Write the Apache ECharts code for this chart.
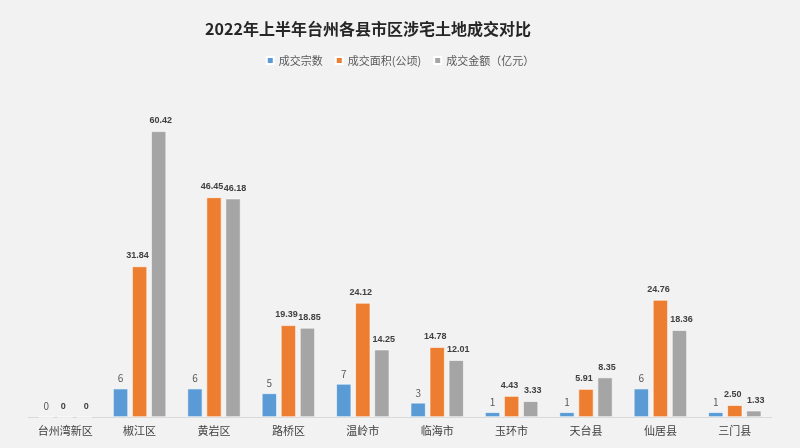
<!DOCTYPE html>
<html><head><meta charset="utf-8">
<script src="https://cdn.jsdelivr.net/npm/echarts@6/dist/echarts.min.js"></script>
<style>html,body{margin:0;padding:0;background:#f2f2f2;}#c{width:800px;height:448px;}</style>
</head><body><div id="c"></div>
<script>
const categories = ['台州湾新区','椒江区','黄岩区','路桥区','温岭市','临海市','玉环市','天台县','仙居县','三门县'];
const countData = [0,6,6,5,7,3,1,1,6,1];
const areaData = [0,31.84,46.45,19.39,24.12,14.78,4.43,5.91,24.76,2.50];
const amountData = [0,60.42,46.18,18.85,14.25,12.01,3.33,8.35,18.36,1.33];
const seriesNames = ['成交宗数','成交面积(公顷)','成交金额（亿元）'];
const font = 'Noto Sans CJK SC';
const chart = echarts.init(document.getElementById('c'), null, {renderer:'canvas'});
function mk(name, data, color, bold, dec, shift){
  return {
    name, type:'bar', data, barWidth:15, barGap:'27%',
    itemStyle:{color, borderColor:'#ffffff', borderWidth:0.6},
    label:{show:true, position:'top', distance: bold ? 6 : 5, offset:[shift,0],
      fontFamily: bold ? 'Liberation Sans' : font, fontSize: bold ? 9 : 10,
      color: bold ? '#404040' : '#595959', fontWeight: bold ? 'bold' : 'normal',
      formatter: p => (dec && p.value !== 0) ? p.value.toFixed(2) : String(p.value)}
  };
}
chart.setOption({
  backgroundColor:'#f2f2f2',
  animation:false,
  title:{text:'2022年上半年台州各县市区涉宅土地成交对比', left:363, textAlign:'center', top:16,
    textStyle:{fontFamily:font, fontSize:16, fontWeight:'bold', color:'#262626'}},
  legend:{top:50, left:'center', itemWidth:7, itemHeight:7, itemGap:12, icon:'rect',
    textStyle:{fontFamily:font, fontSize:11, color:'#595959'}, data:seriesNames},
  grid:{left:28, right:28, top:86, bottom:31},
  xAxis:{type:'category', data:categories,
    axisLine:{lineStyle:{color:'#d9d9d9'}}, axisTick:{show:false},
    axisLabel:{interval:0, fontFamily:font, fontSize:11, color:'#404040', margin:8}},
  yAxis:{type:'value', min:0, max:70, show:false, splitLine:{show:false}},
  series:[
    mk(seriesNames[0], countData, '#5b9bd5', false, false, 0),
    mk(seriesNames[1], areaData, '#ed7d31', true, true, -2),
    mk(seriesNames[2], amountData, '#a5a5a5', true, true, 2)
  ]
});
</script></body></html>
